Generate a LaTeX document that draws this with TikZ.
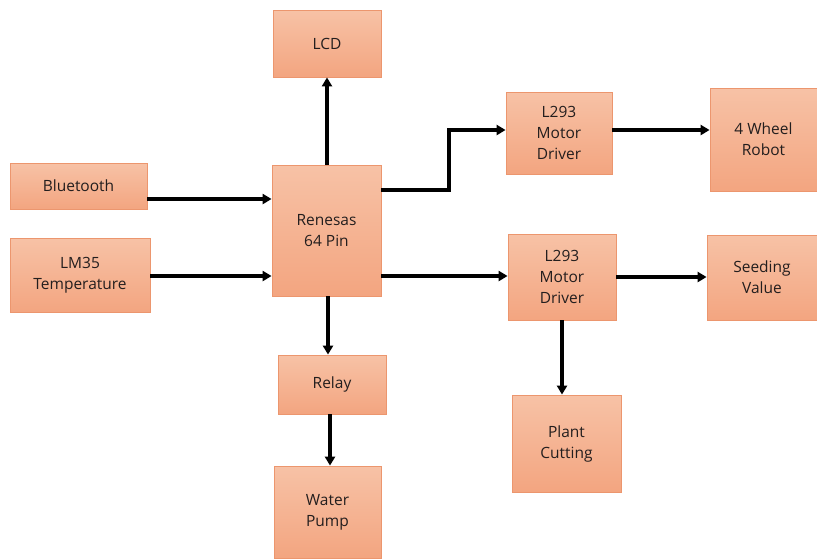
\documentclass[tikz,border=0pt]{standalone}
\usepackage{fontspec}
\setmainfont{Open Sans}
\usetikzlibrary{arrows.meta}
\definecolor{boxtop}{RGB}{247,194,166}
\definecolor{boxbot}{RGB}{243,165,128}
\definecolor{boxline}{RGB}{236,150,110}
\definecolor{txt}{RGB}{35,30,30}
\tikzset{
  blk/.style={draw=boxline, line width=0.8pt, top color=boxtop, bottom color=boxbot,
    inner sep=0pt, align=center, text=txt, font=\fontsize{15.5}{21}\selectfont},
  conn/.style={line width=3.6pt, -{Triangle[length=9pt,width=10pt]}, black}
}
\begin{document}
\begin{tikzpicture}[x=1pt,y=-1pt]
\useasboundingbox (0,0) rectangle (817,558);
\newcommand{\blkat}[6]{\node[blk, minimum width=#4-#2, minimum height=#5-#3] (#1) at ({(#2+#4)/2},{(#3+#5)/2}) {#6};}
\blkat{lcd}{273}{10}{381}{77}{LCD}
\blkat{bt}{10}{163}{147}{209}{Bluetooth}
\blkat{lm}{10}{238}{150}{312}{LM35\\Temperature}
\blkat{ren}{272}{165}{381}{296}{Renesas\\64 Pin}
\blkat{drva}{506}{92}{612}{174}{L293\\Motor\\Driver}
\blkat{robot}{710}{88}{817}{191}{4 Wheel\\Robot}
\blkat{drvb}{508}{234}{616}{320}{L293\\Motor\\Driver}
\blkat{seed}{707}{235}{817}{320}{Seeding\\Value}
\blkat{relay}{278}{355}{386}{414}{Relay}
\blkat{pump}{274}{466}{381}{558}{Water\\Pump}
\blkat{plant}{512}{395}{621}{492}{Plant\\Cutting}
\coordinate (bend) at (449,190);
\draw[conn] (ren.north -| 327,0) -- (lcd.south -| 327,0);
\draw[conn] (bt.east |- 0,199) -- (ren.west |- 0,199);
\draw[conn] (lm.east |- 0,276) -- (ren.west |- 0,276);
\draw[conn] (ren.east |- bend) -- (bend) -- (bend |- 0,130) -- (drva.west |- 0,130);
\draw[conn] (ren.east |- 0,276) -- (drvb.west |- 0,276);
\draw[conn] (drva.east |- 0,130) -- (robot.west |- 0,130);
\draw[conn] (drvb.east |- 0,277) -- (seed.west |- 0,277);
\draw[conn] (ren.south -| 328,0) -- (relay.north -| 328,0);
\draw[conn] (relay.south -| 330,0) -- (pump.north -| 330,0);
\draw[conn] (drvb.south -| 562,0) -- (plant.north -| 562,0);
\end{tikzpicture}
\end{document}
